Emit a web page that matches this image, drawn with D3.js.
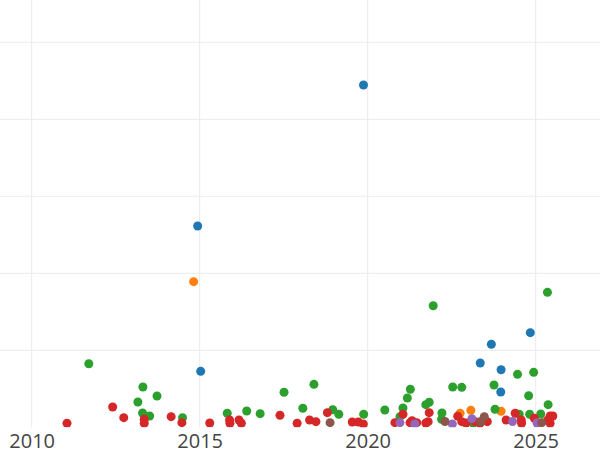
<!DOCTYPE html>
<html>
<head>
<meta charset="utf-8">
<script src="https://cdn.jsdelivr.net/npm/d3@7"></script>
<style>
  html, body { margin: 0; padding: 0; background: #fff; }
  svg { display: block; }
</style>
</head>
<body>
<svg id="chart" width="600" height="450"></svg>
<script>
// ---- data (year, value) ----
const seriesNames = ["A", "B", "C", "D", "E", "F"];
const seriesA = [[2019.875,444.5],[2014.94,261.4],[2015.03,72.7],[2024.84,122.9],[2023.68,107.8],[2023.35,83.5],[2023.97,74.8],[2023.96,45.8]];
const seriesB = [[2014.82,189.1],[2022.75,18.2],[2023.07,22.1],[2023.97,20.8]];
const seriesC = [[2011.70,82.6],[2013.31,52.3],[2013.73,40.6],[2013.16,32.9],[2013.30,18.6],[2013.51,14.7],[2014.49,12.5],[2015.82,18.2],[2016.40,21.2],[2016.80,17.7],[2017.51,45.5],[2018.07,24.7],[2018.40,55.8],[2018.96,22.9],[2019.14,16.9],[2019.88,16.9],[2020.51,22.5],[2021.18,38.1],[2021.05,25.1],[2020.96,13.8],[2021.27,49.4],[2021.73,29.4],[2021.83,32.5],[2021.95,157.9],[2022.53,52.3],[2022.80,51.9],[2022.21,18.6],[2022.20,10.4],[2023.14,5.6],[2023.76,54.9],[2023.79,23.4],[2025.35,175.3],[2024.46,68.8],[2024.94,71.4],[2024.79,41.0],[2025.37,29.4],[2024.51,16.9],[2024.82,16.9],[2025.15,17.3]];
const seriesD = [[2011.05,5.2],[2012.41,26.4],[2012.74,12.5],[2013.35,10.4],[2013.35,5.2],[2014.15,13.8],[2014.47,6.0],[2015.30,5.6],[2015.89,9.5],[2015.90,5.2],[2016.17,9.5],[2016.24,5.2],[2017.39,15.6],[2017.90,5.2],[2018.27,9.5],[2018.46,7.3],[2018.80,19.0],[2019.54,6.9],[2019.72,6.9],[2019.87,4.3],[2020.81,6.0],[2021.05,16.9],[2021.26,6.0],[2021.32,8.6],[2021.46,6.0],[2021.83,19.0],[2021.80,7.3],[2021.73,5.6],[2022.68,14.3],[2022.80,7.3],[2022.93,5.6],[2023.20,7.3],[2023.34,5.2],[2023.56,7.3],[2024.12,9.5],[2024.39,18.2],[2024.57,9.5],[2024.58,5.2],[2024.96,11.7],[2025.43,14.7],[2025.51,14.7],[2025.43,5.2],[2025.36,9.5]];
const seriesE = [[2020.96,6.0],[2021.40,4.3],[2022.52,4.3],[2023.10,11.2],[2024.31,7.5],[2025.04,5.6]];
const seriesF = [[2018.88,6.0],[2022.30,7.5],[2023.36,7.5],[2023.47,13.8],[2025.18,6.0]];
const xTicks = [2010, 2015, 2020, 2025];
const yGridValues = [100, 200, 300, 400, 500];

const allSeries = [seriesA, seriesB, seriesC, seriesD, seriesE, seriesF];
const colors = ["#1f77b4", "#ff7f0e", "#2ca02c", "#d62728", "#9467bd", "#8c564b"];

const W = 600, H = 450;
const plotBottom = 427.3;

const x = d3.scaleLinear().domain([2009.057, 2026.914]).range([0, W]);
const y = d3.scaleLinear().domain([0, 554.9]).range([plotBottom, 0]);

const svg = d3.select("#chart");

svg.append("defs").append("clipPath").attr("id", "plotclip")
  .append("rect").attr("x", 0).attr("y", 0).attr("width", W).attr("height", plotBottom);

// grid
const grid = svg.append("g");
grid.selectAll("line.v").data(xTicks).join("line")
  .attr("x1", d => x(d)).attr("x2", d => x(d))
  .attr("y1", 0).attr("y2", plotBottom)
  .attr("stroke", "#ebebeb").attr("stroke-width", 1);
grid.selectAll("line.h").data(yGridValues).join("line")
  .attr("x1", 0).attr("x2", W)
  .attr("y1", d => y(d)).attr("y2", d => y(d))
  .attr("stroke", "#ebebeb").attr("stroke-width", 1);

// points
const pts = svg.append("g").attr("clip-path", "url(#plotclip)");
allSeries.forEach((s, i) => {
  pts.append("g").selectAll("circle").data(s).join("circle")
    .attr("cx", d => x(d[0]))
    .attr("cy", d => y(d[1]))
    .attr("r", 4.5)
    .attr("fill", colors[i]);
});

// x axis labels
const xAxis = d3.axisBottom(x).tickValues(xTicks).tickFormat(d3.format("d")).tickSize(0).tickPadding(0);
const ax = svg.append("g").attr("transform", `translate(0,${plotBottom})`).call(xAxis);
ax.select(".domain").remove();
ax.selectAll("text")
  .attr("y", 20.2)
  .attr("dy", null)
  .attr("fill", "#444")
  .style("font-family", "'Open Sans', sans-serif")
  .style("font-size", "20px");
</script>
</body>
</html>
